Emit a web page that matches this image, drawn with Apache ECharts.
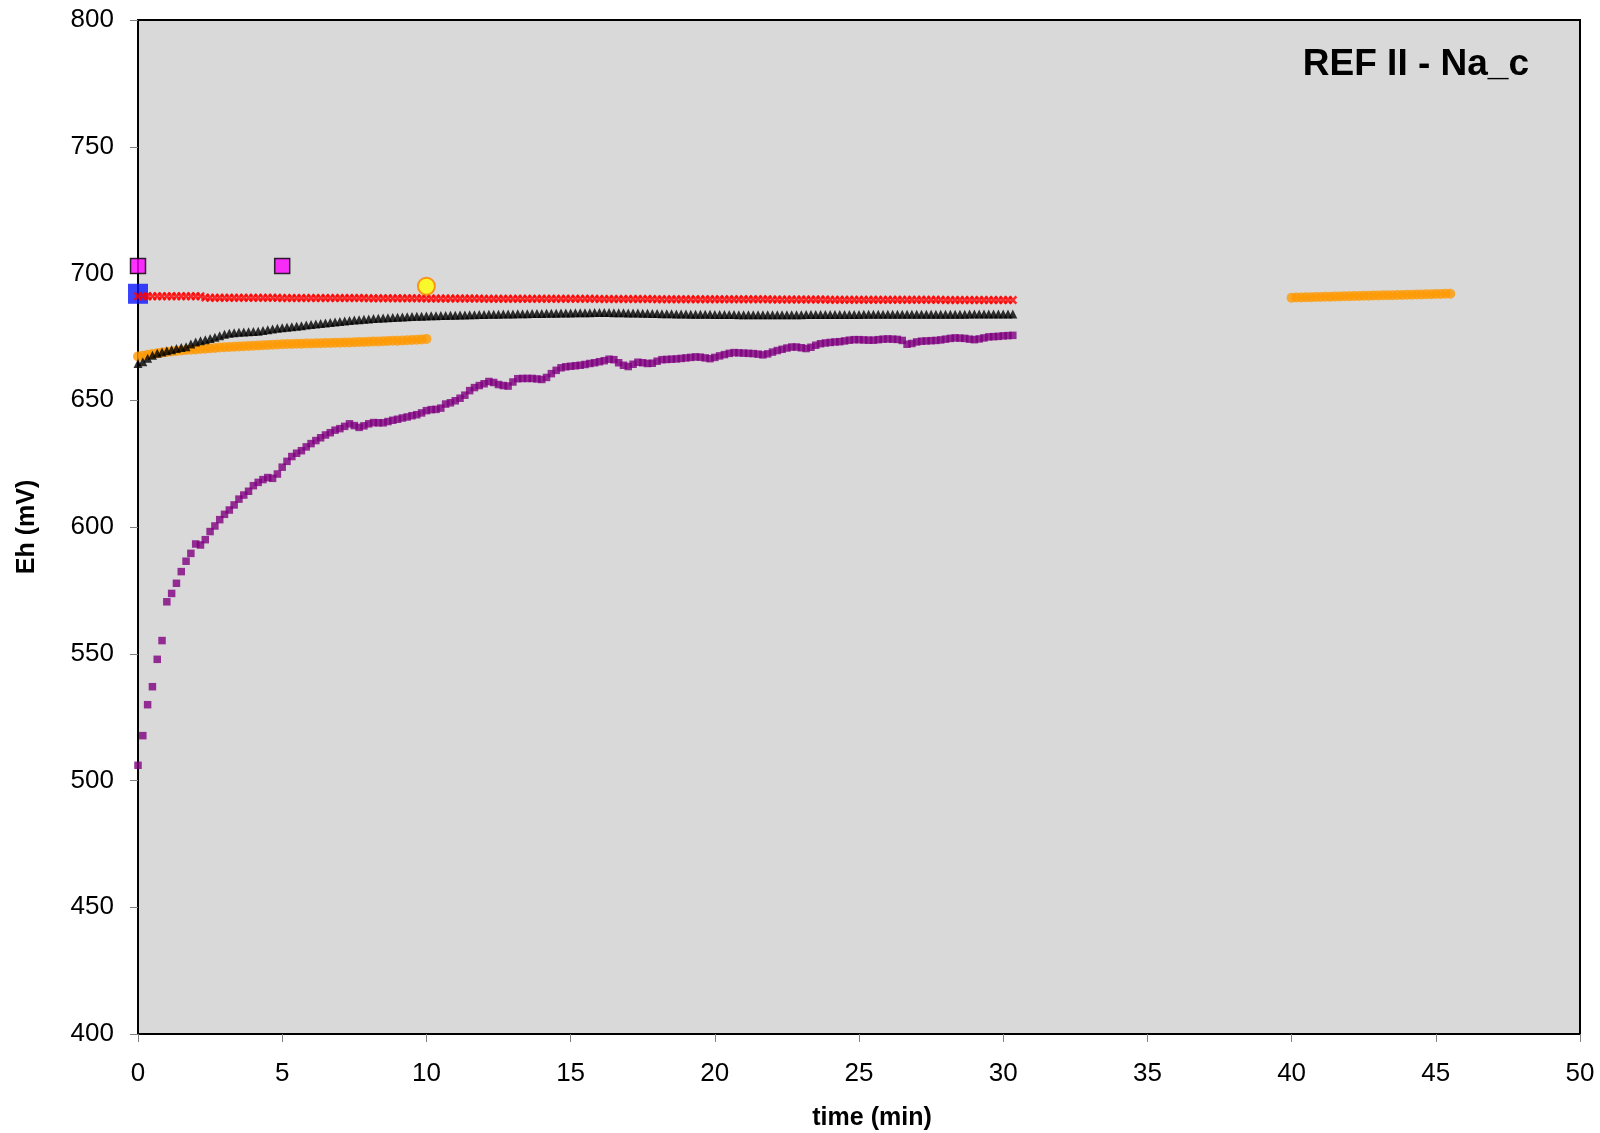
<!DOCTYPE html>
<html>
<head>
<meta charset="utf-8">
<title>REF II - Na_c</title>
<script src="https://cdn.jsdelivr.net/npm/echarts@6/dist/echarts.min.js"></script>
<style>
  html, body { margin: 0; padding: 0; background: #ffffff; }
  #chart { width: 1600px; height: 1133px; }
</style>
</head>
<body>
<div id="chart"></div>
<script>
// Eh readings logged every 10 s (1/6 min)
const STEP_MIN = 1 / 6;

const xTicks = [0, 5, 10, 15, 20, 25, 30, 35, 40, 45, 50];
const yTicks = [400, 450, 500, 550, 600, 650, 700, 750, 800];

// electrode run, purple squares (0 - 30.3 min)
const purpleEh = [
  506.0,517.7,529.9,537.0,547.8,555.2,570.5,573.8,577.8,582.4,586.5,589.6,
  593.3,592.9,595.0,598.2,600.4,602.9,605.0,606.7,608.7,611.0,612.6,614.1,
  616.3,617.6,618.7,619.5,619.2,620.9,623.6,625.9,627.8,629.1,630.1,631.6,
  632.9,634.1,635.2,636.3,637.2,638.2,638.8,639.7,640.7,640.0,639.3,639.9,
  640.7,641.2,641.1,641.1,641.6,642.1,642.5,643.0,643.4,643.9,644.3,645.0,
  645.9,646.3,646.4,646.9,648.5,649.0,649.8,650.8,652.0,653.8,655.0,655.8,
  656.5,657.4,657.0,656.2,655.8,655.6,657.2,658.5,658.6,658.6,658.6,658.4,
  658.2,659.0,660.5,661.8,662.8,663.2,663.4,663.6,663.8,664.1,664.5,664.8,
  665.2,665.6,666.2,666.0,664.8,663.8,663.3,664.2,665.0,664.8,664.5,664.6,
  665.4,666.0,666.1,666.2,666.3,666.5,666.7,666.9,667.1,667.0,666.7,666.4,
  666.9,667.5,668.0,668.5,668.8,668.7,668.6,668.5,668.4,668.2,667.9,668.3,
  669.0,669.6,670.1,670.6,671.0,671.0,670.7,670.4,670.9,671.7,672.3,672.6,
  672.8,673.0,673.1,673.4,673.7,673.9,673.9,673.8,673.7,673.7,673.9,674.1,
  674.2,674.1,674.0,673.6,672.1,672.4,673.0,673.3,673.4,673.5,673.6,673.8,
  674.1,674.4,674.6,674.5,674.4,674.1,673.9,674.2,674.6,675.0,675.1,675.2,
  675.4,675.5,675.6
];

// black triangles (0 - 30.3 min)
const blackEh = [
  664.5,665.2,666.6,667.8,668.5,669.0,669.5,669.9,670.4,670.8,671.1,672.2,
  673.0,673.5,673.9,674.4,674.9,675.4,676.0,676.4,676.6,676.8,676.9,677.0,
  677.1,677.2,677.5,677.8,678.1,678.4,678.6,678.8,679.0,679.2,679.4,679.7,
  679.9,680.1,680.3,680.5,680.7,680.9,681.1,681.3,681.5,681.7,681.8,682.0,
  682.1,682.2,682.3,682.4,682.5,682.6,682.7,682.8,682.9,683.0,683.1,683.1,
  683.2,683.3,683.3,683.4,683.4,683.5,683.5,683.6,683.6,683.7,683.7,683.8,
  683.8,683.9,683.9,683.9,684.0,684.0,684.0,684.1,684.1,684.1,684.2,684.2,
  684.2,684.3,684.3,684.3,684.4,684.4,684.4,684.5,684.5,684.5,684.5,684.6,
  684.6,684.6,684.6,684.5,684.5,684.5,684.4,684.4,684.4,684.3,684.3,684.2,
  684.2,684.1,684.1,684.1,684.0,684.0,684.0,683.9,683.9,683.9,683.9,683.9,
  683.8,683.8,683.8,683.8,683.8,683.7,683.7,683.7,683.7,683.7,683.7,683.7,
  683.7,683.7,683.7,683.7,683.7,683.7,683.7,683.8,683.8,683.8,683.8,683.8,
  683.8,683.8,683.8,683.8,683.8,683.8,683.8,683.9,683.9,683.9,683.9,683.9,
  683.9,683.9,683.9,683.9,683.9,683.9,683.9,683.9,683.9,683.9,683.9,683.9,
  683.9,683.9,683.9,683.9,683.9,684.0,684.0,684.0,684.0,684.0,684.0,684.0,
  684.0,684.0,684.0
];

// red crosses (0 - 30.3 min)
const redEh = [
  691.0,691.0,691.0,691.0,691.0,691.0,691.0,691.0,691.0,691.0,691.0,691.0,
  691.0,691.0,690.5,690.4,690.4,690.4,690.4,690.4,690.4,690.4,690.4,690.4,
  690.4,690.4,690.4,690.4,690.4,690.4,690.3,690.3,690.3,690.3,690.3,690.3,
  690.3,690.3,690.3,690.3,690.3,690.3,690.3,690.3,690.3,690.3,690.3,690.3,
  690.2,690.2,690.2,690.2,690.2,690.2,690.2,690.2,690.2,690.2,690.2,690.2,
  690.1,690.1,690.1,690.1,690.1,690.1,690.1,690.1,690.1,690.1,690.1,690.1,
  690.0,690.0,690.0,690.0,690.0,690.0,690.0,690.0,690.0,690.0,690.0,690.0,
  690.0,690.0,690.0,690.0,690.0,690.0,690.0,690.0,690.0,690.0,690.0,690.0,
  689.9,689.9,689.9,689.9,689.9,689.9,689.9,689.9,689.9,689.9,689.9,689.9,
  689.8,689.8,689.8,689.8,689.8,689.8,689.8,689.8,689.8,689.8,689.8,689.8,
  689.8,689.8,689.8,689.8,689.8,689.8,689.8,689.8,689.8,689.8,689.8,689.8,
  689.7,689.7,689.7,689.7,689.7,689.7,689.7,689.7,689.7,689.7,689.7,689.7,
  689.6,689.6,689.6,689.6,689.6,689.6,689.6,689.6,689.6,689.6,689.6,689.6,
  689.6,689.6,689.6,689.6,689.6,689.6,689.6,689.6,689.6,689.6,689.6,689.6,
  689.5,689.5,689.5,689.5,689.5,689.5,689.5,689.5,689.5,689.5,689.5,689.5,
  689.5,689.5,689.5
];

// orange circles, first run (0 - 10 min)
const orangeEhA = [
  667.3,667.6,667.9,668.2,668.5,668.8,669.0,669.2,669.4,669.6,669.8,669.9,
  670.0,670.2,670.3,670.5,670.6,670.8,670.9,671.0,671.1,671.2,671.3,671.4,
  671.5,671.6,671.7,671.8,671.9,672.0,672.1,672.2,672.2,672.3,672.3,672.4,
  672.4,672.5,672.5,672.6,672.6,672.7,672.7,672.8,672.8,672.9,673.0,673.0,
  673.1,673.2,673.2,673.3,673.4,673.5,673.5,673.6,673.7,673.8,673.9,674.0,
  674.2
];
const orangeStartA = 0;

// orange circles, second run (40 - 45.5 min)
const orangeEhB = [
  690.4,690.5,690.5,690.6,690.6,690.7,690.7,690.8,690.8,690.9,690.9,691.0,
  691.0,691.1,691.1,691.2,691.2,691.3,691.3,691.4,691.4,691.4,691.5,691.5,
  691.6,691.6,691.7,691.7,691.8,691.8,691.9,691.9,692.0,692.0
];
const orangeStartB = 40;

// single readings
const magentaPoints = [[0, 703], [5, 703]];
const bluePoints = [[0, 692]];
const yellowPoints = [[10, 695]];

function timed(values, start) {
  return values.map((v, i) => [start + i * STEP_MIN, v]);
}

const FONT = '"Liberation Sans", Arial, sans-serif';
// thick "x" marker
const crossPath = 'path://M0,2L2,0L5,3L8,0L10,2L7,5L10,8L8,10L5,7L2,10L0,8L3,5Z';

const chart = echarts.init(document.getElementById('chart'), null, { renderer: 'canvas' });

chart.setOption({
  animation: false,
  backgroundColor: '#ffffff',
  textStyle: { fontFamily: FONT },
  grid: {
    left: 138, right: 20, top: 20, bottom: 99,
    outerBoundsMode: 'none',
    containLabel: false,
    show: true,
    backgroundColor: '#d9d9d9',
    borderColor: '#000000',
    borderWidth: 2
  },
  xAxis: {
    type: 'value',
    min: xTicks[0], max: xTicks[xTicks.length - 1], interval: 5,
    name: 'time (min)',
    nameLocation: 'middle',
    nameGap: 72,
    nameTextStyle: { fontFamily: FONT, fontSize: 25, fontWeight: 'bold', color: '#000', padding: [0, 0, 0, 26] },
    axisLine: { show: true, lineStyle: { color: '#000', width: 2 } },
    axisTick: { show: true, inside: false, length: 8, lineStyle: { color: '#808080', width: 1 } },
    axisLabel: { fontFamily: FONT, fontSize: 26, color: '#000', margin: 27 },
    splitLine: { show: false }
  },
  yAxis: {
    type: 'value',
    min: yTicks[0], max: yTicks[yTicks.length - 1], interval: 50,
    name: 'Eh (mV)',
    nameLocation: 'middle',
    nameGap: 98,
    nameRotate: 90,
    nameTextStyle: { fontFamily: FONT, fontSize: 25, fontWeight: 'bold', color: '#000' },
    axisLine: { show: true, lineStyle: { color: '#000', width: 2 } },
    axisTick: { show: true, inside: false, length: 8, lineStyle: { color: '#808080', width: 1 } },
    axisLabel: { fontFamily: FONT, fontSize: 26, color: '#000', margin: 24 },
    splitLine: { show: false }
  },
  graphic: [{
    type: 'text',
    right: 71,
    top: 46,
    style: {
      text: 'REF II - Na_c',
      font: 'bold 37px ' + FONT,
      fill: '#000'
    }
  }],
  series: [
    {
      type: 'scatter', name: 'blue', clip: false,
      data: bluePoints, symbol: 'rect', symbolSize: 20,
      itemStyle: { color: '#0a14ff' }
    },
    {
      type: 'scatter', name: 'orangeA', clip: false,
      data: timed(orangeEhA, orangeStartA), symbol: 'circle', symbolSize: 10,
      itemStyle: { color: '#ff9900' }
    },
    {
      type: 'scatter', name: 'orangeB', clip: false,
      data: timed(orangeEhB, orangeStartB), symbol: 'circle', symbolSize: 10,
      itemStyle: { color: '#ff9900' }
    },
    {
      type: 'scatter', name: 'black', clip: false,
      data: timed(blackEh, 0), symbol: 'triangle', symbolSize: 9,
      itemStyle: { color: '#000000' }
    },
    {
      type: 'scatter', name: 'red', clip: false,
      data: timed(redEh, 0), symbol: crossPath, symbolSize: 9,
      itemStyle: { color: '#ff0000' }
    },
    {
      type: 'scatter', name: 'purple', clip: false,
      data: timed(purpleEh, 0), symbol: 'rect', symbolSize: 7.5,
      itemStyle: { color: '#800080' }
    },
    {
      type: 'scatter', name: 'magenta', clip: false,
      data: magentaPoints, symbol: 'rect', symbolSize: 15,
      itemStyle: { color: '#ff00ff', borderColor: '#000000', borderWidth: 1.5 }
    },
    {
      type: 'scatter', name: 'yellow', clip: false,
      data: yellowPoints, symbol: 'circle', symbolSize: 17,
      itemStyle: { color: '#ffff00', borderColor: '#ff8000', borderWidth: 2 }
    }
  ]
});
</script>
</body>
</html>
